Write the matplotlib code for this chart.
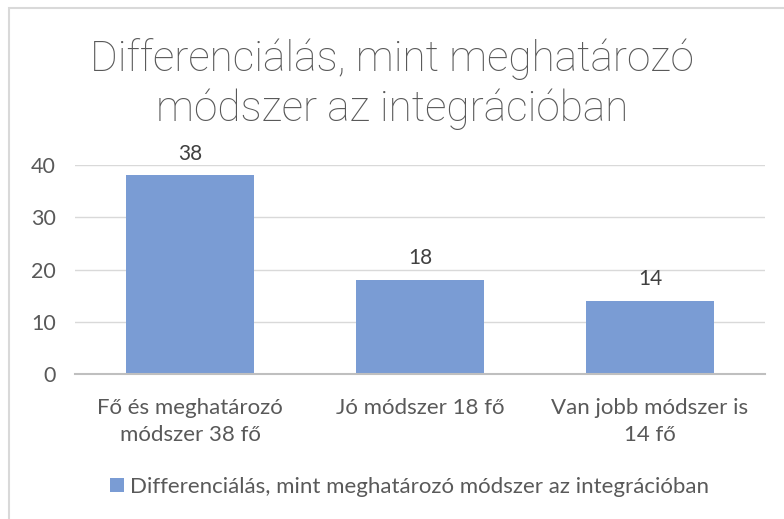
import matplotlib.pyplot as plt
from matplotlib.patches import Rectangle

categories = ['Fő és meghatározó\nmódszer 38 fő', 'Jó módszer 18 fő', 'Van jobb módszer is\n14 fő']
values = [38, 18, 14]
series_name = 'Differenciálás, mint meghatározó módszer az integrációban'
title = 'Differenciálás, mint meghatározó\nmódszer az integrációban'
yticks = [0, 10, 20, 30, 40]

text_col = '#595959'
bar_col = '#7A9CD4'

plt.rcParams['font.family'] = ['Lato', 'DejaVu Sans']

fig = plt.figure(figsize=(7.84, 5.19), dpi=100)
ax = fig.add_axes([75 / 784, 1 - 374 / 519, 690 / 784, 209 / 519])

x = range(len(values))
bars = ax.bar(x, values, width=0.556, color=bar_col, zorder=2, label=series_name)
for b, v in zip(bars, values):
    ax.text(b.get_x() + b.get_width() / 2, v + 2.2, str(v), ha='center', va='bottom',
            fontsize=15, color='#404040')

ax.set_xlim(-0.5, len(values) - 0.5)
ax.set_ylim(0, 40)
ax.set_yticks(yticks)
ax.set_xticks(list(x))
ax.set_xticklabels(categories, fontsize=16, color=text_col, linespacing=1.45)
ax.tick_params(axis='y', labelsize=15.5, labelcolor=text_col, length=0, pad=14)
ax.tick_params(axis='x', length=0, pad=17)
ax.grid(axis='y', color='#D9D9D9', linewidth=1, zorder=0)
for s in ['top', 'right', 'left']:
    ax.spines[s].set_visible(False)
ax.spines['bottom'].set_color('#BFBFBF')
ax.spines['bottom'].set_linewidth(1.5)
ax.spines['bottom'].set_zorder(3)

fig.text(0.5, 1 - 84 / 519, title, ha='center', va='center', fontsize=30.5,
         color='#595959', family=['Roboto', 'DejaVu Sans'], fontweight='light',
         linespacing=1.25)

fig.legend(loc='center', bbox_to_anchor=(410 / 784, 1 - 487 / 519), frameon=False,
           fontsize=16, labelcolor=text_col, handlelength=0.6, handleheight=0.6,
           handletextpad=0.3)

fig.patches.append(Rectangle((9 / 784, -0.1), 1.2, 1 - 8 / 519 + 0.1, transform=fig.transFigure,
                             fill=False, edgecolor='#D9D9D9', linewidth=1.5))

fig.savefig('out.png', dpi=100)
